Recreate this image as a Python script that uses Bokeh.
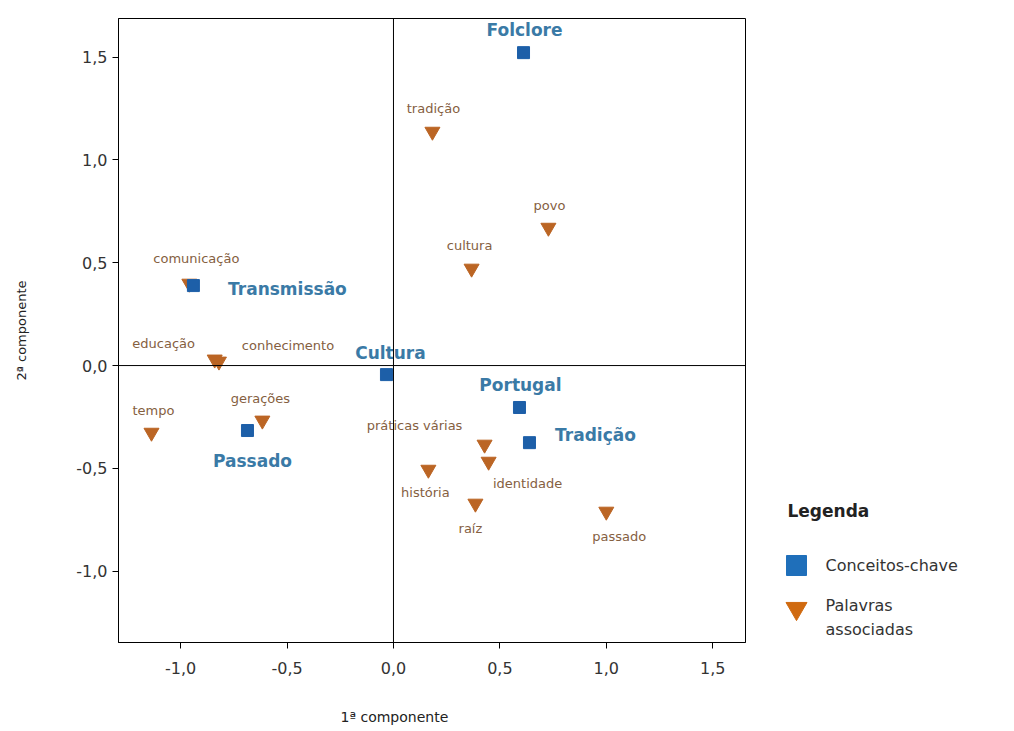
from bokeh.plotting import figure
from bokeh.models import (ColumnDataSource, Span, Title, FixedTicker, CustomJSTickFormatter,
                          LinearAxis)
from bokeh.layouts import row
from bokeh.core.properties import value
from bokeh.embed import file_html
from bokeh.resources import INLINE

# ---- data ----
key_names = ["Folclore", "Transmissão", "Cultura", "Portugal", "Tradição", "Passado"]
key_x = [0.611, -0.940, -0.033, 0.592, 0.639, -0.686]
key_y = [1.522, 0.389, -0.044, -0.204, -0.375, -0.316]

word_names = ["tradição", "povo", "cultura", "comunicação", "educação", "conhecimento",
              "tempo", "gerações", "práticas várias", "identidade", "história", "raíz", "passado"]
word_x = [0.183, 0.728, 0.367, -0.959, -0.84, -0.82, -1.137, -0.616, 0.428, 0.447, 0.164, 0.385, 1.00]
word_y = [1.138, 0.671, 0.472, 0.399, 0.03, 0.02, -0.326, -0.267, -0.384, -0.467, -0.506, -0.671, -0.710]

ticks = [-1.0, -0.5, 0.0, 0.5, 1.0, 1.5]

legend_title = "Legenda"
legend_labels = ["Conceitos-chave", "Palavras\nassociadas"]
legend_markers = ["square", "inverted_triangle"]

# label placement (screen px, +y down)
key_dx = [1, 94, 4, 1, 66, 5]
key_dy = [-23, 3, -22, -22, -8, 30]
word_dx = [1, 1, -2, 7, -51, 69, 2, -2, -70, 39, -3, -5, 13]
word_dy = [-23, -22, -23, -25, -16, -16, -22, -22, -19, 22, 23, 25, 25]

FONT = "DejaVu Sans"
BLUE = "#1d5fa8"
BLUE_TXT = "#3a7aa6"
ORANGE = "#bb6524"
BROWN_TXT = "#85603f"

H = 728
TOP, FH = 18, 624
p = figure(width=750, height=H, x_range=(-1.292, 1.654), y_range=(-1.347, 1.688),
           output_backend="svg", toolbar_location=None,
           min_border_left=118, min_border_right=5, min_border_top=TOP,
           min_border_bottom=H - TOP - FH)
p.grid.visible = False
p.outline_line_color = "black"
p.outline_line_width = 1
p.background_fill_color = "white"

for ax in (p.xaxis[0], p.yaxis[0]):
    ax.ticker = FixedTicker(ticks=ticks)
    ax.formatter = CustomJSTickFormatter(code="return tick.toFixed(1).replace('.', ',');")
    ax.major_label_text_font = FONT
    ax.major_label_text_font_size = "16px"
    ax.major_label_text_color = "#333333"
    ax.major_tick_out = 6
    ax.major_tick_in = 0
    ax.minor_tick_line_color = None
    ax.axis_line_color = "black"
    ax.major_tick_line_color = "black"
p.xaxis[0].major_label_standoff = 13

p.yaxis.axis_label = "2ª componente"
p.yaxis.axis_label_text_font = FONT
p.yaxis.axis_label_text_font_size = "13px"
p.yaxis.axis_label_text_font_style = "normal"
p.yaxis.axis_label_text_color = "#222222"
p.yaxis.axis_label_standoff = 44

# invisible spacer axis (one white tick, no label) to push the x title down
spacer = LinearAxis(ticker=FixedTicker(ticks=[1.6]), major_tick_out=29, major_tick_in=0,
                    major_label_standoff=0, axis_line_color=None,
                    major_tick_line_color="white", minor_tick_line_color=None,
                    formatter=CustomJSTickFormatter(code="return '';"),
                    major_label_text_font_size="1px", major_label_text_color="white")
p.add_layout(spacer, "below")

xt = Title(text="1ª componente", align="left", offset=222, standoff=2,
           text_font=FONT, text_font_size="14px", text_font_style="normal",
           text_color="#222222")
p.add_layout(xt, "below")

p.add_layout(Span(location=0, dimension="width", line_color="black", line_width=1))
p.add_layout(Span(location=0, dimension="height", line_color="black", line_width=1))

ksrc = ColumnDataSource(dict(x=key_x, y=key_y, t=key_names, dx=key_dx, dy=key_dy))
wsrc = ColumnDataSource(dict(x=word_x, y=word_y, t=word_names, dx=word_dx, dy=word_dy))

p.scatter("x", "y", source=wsrc, marker="inverted_triangle", size=15,
          fill_color=ORANGE, line_color=ORANGE)
p.scatter("x", "y", source=ksrc, marker="square", size=12,
          fill_color=BLUE, line_color=BLUE)

p.text("x", "y", text="t", source=wsrc, x_offset="dx", y_offset="dy",
       text_font=value(FONT), text_font_size="13px", text_color=BROWN_TXT,
       text_align="center", text_baseline="middle")
p.text("x", "y", text="t", source=ksrc, x_offset="dx", y_offset="dy",
       text_font=value(FONT), text_font_size="17px", text_font_style="bold",
       text_color=BLUE_TXT, text_align="center", text_baseline="middle")

# ---- legend panel (own small figure; its frame is aligned with the main frame) ----
W2 = 1014 - 750
p2 = figure(width=W2, height=H, x_range=(0, W2), y_range=(TOP + FH, TOP),
            output_backend="svg", toolbar_location=None,
            x_axis_location=None, y_axis_location=None, min_border=0)
p2.grid.visible = False
p2.outline_line_color = None

gx, tx = 46, 75          # glyph centre / text start
title_y = 510
item_y = [565, 608]
text_y = [565, 617]

p2.text(x=[37], y=[title_y], text=[legend_title], text_font=value(FONT),
        text_font_size="17px", text_font_style="bold", text_color="#222222",
        text_baseline="middle", text_align="left")
p2.scatter(x=[gx], y=[item_y[0]], marker=legend_markers[0], size=20,
           fill_color="#1f6fba", line_color="#1f6fba")
p2.scatter(x=[gx], y=[item_y[1]], marker=legend_markers[1], size=21,
           fill_color="#d06a10", line_color="#d06a10")
p2.text(x=[tx, tx], y=text_y, text=legend_labels, text_font=value(FONT),
        text_font_size="16px", text_color="#333333", text_line_height=1.3,
        text_baseline="middle", text_align="left")

layout = row(p, p2)
open("out.html", "w").write(file_html(layout, INLINE))
